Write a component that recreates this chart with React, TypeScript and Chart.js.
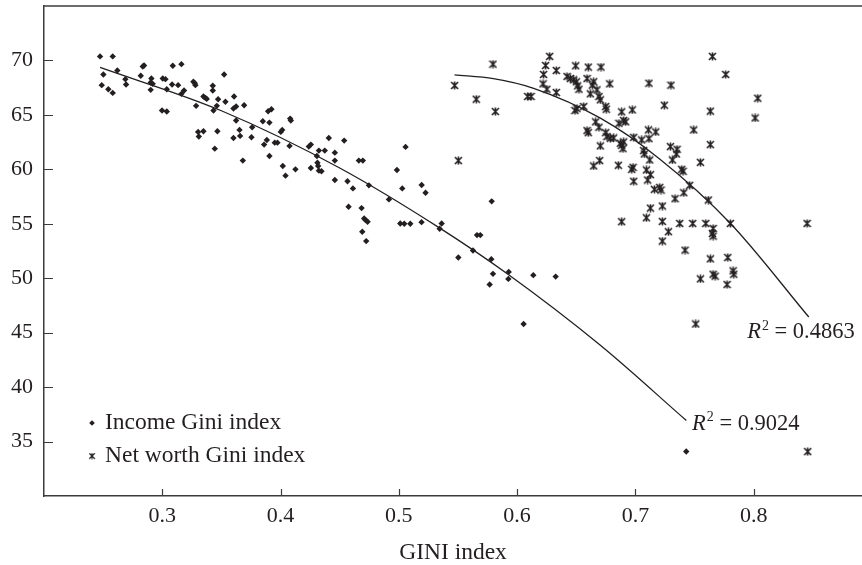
import React, { useEffect, useRef } from 'react';
import { Chart, registerables } from 'chart.js';

Chart.register(...registerables);

// ---------- data ----------
const xTickValues = [0.3, 0.4, 0.5, 0.6, 0.7, 0.8];
const yTickValues = [35, 40, 45, 50, 55, 60, 65, 70];

const incomeLabel = 'Income Gini index';
const netWorthLabel = 'Net worth Gini index';
const xAxisTitle = 'GINI index';

const incomePoints: [number, number][] = [
  [0.2474, 70.37], [0.2581, 70.37], [0.2502, 68.71], [0.262, 69.08], [0.2488, 67.73], [0.2544, 67.36],
  [0.2581, 67.02], [0.2688, 68.28], [0.2694, 67.79], [0.2818, 68.59], [0.2835, 69.45], [0.2846, 69.54],
  [0.2902, 67.98], [0.2908, 68.34], [0.2919, 67.85], [0.2902, 67.3], [0.3004, 68.34], [0.3027, 68.28],
  [0.3038, 67.36], [0.3089, 69.51], [0.3162, 69.66], [0.3083, 67.79], [0.3134, 67.73], [0.3162, 66.93],
  [0.3184, 67.24], [0.2998, 65.4], [0.3038, 65.31], [0.3263, 68.04], [0.3275, 67.91], [0.328, 67.73],
  [0.3286, 65.83], [0.3348, 66.69], [0.3365, 66.56], [0.3376, 66.47], [0.3427, 67.67], [0.3427, 67.24],
  [0.3433, 65.4], [0.3472, 66.44], [0.3461, 65.83], [0.3523, 68.71], [0.3534, 66.2], [0.3607, 66.69],
  [0.3602, 65.58], [0.3624, 65.77], [0.3624, 64.48], [0.3692, 65.89], [0.3303, 63.44], [0.3309, 63.01],
  [0.3348, 63.5], [0.3466, 63.5], [0.3444, 61.9], [0.3602, 62.88], [0.3653, 63.62], [0.3658, 63.07],
  [0.3681, 60.8], [0.376, 63.87], [0.3754, 62.94], [0.385, 64.42], [0.3895, 65.34], [0.3923, 65.52],
  [0.3906, 64.29], [0.3861, 62.27], [0.3884, 62.7], [0.3906, 61.23], [0.3951, 62.45], [0.3974, 62.45],
  [0.4002, 63.44], [0.4014, 63.62], [0.4019, 60.31], [0.4042, 59.42], [0.4076, 62.15], [0.4081, 64.66],
  [0.4087, 64.48], [0.4126, 60.0], [0.4239, 62.09], [0.4256, 62.27], [0.4256, 60.12], [0.4307, 61.23],
  [0.4312, 60.61], [0.4318, 60.31], [0.4324, 59.88], [0.4346, 59.82], [0.4324, 61.72], [0.4374, 61.72],
  [0.4408, 62.88], [0.4459, 61.53], [0.4459, 60.8], [0.4459, 59.02], [0.4538, 62.64], [0.4566, 58.9],
  [0.4612, 58.25], [0.4662, 60.8], [0.4696, 60.8], [0.4747, 58.53], [0.5057, 62.06], [0.4984, 59.94],
  [0.5029, 58.25], [0.5193, 58.56], [0.5226, 57.85], [0.4575, 56.57], [0.4685, 56.44], [0.4707, 55.49],
  [0.4719, 55.34], [0.4736, 55.19], [0.4691, 54.27], [0.4724, 53.41], [0.4916, 57.24], [0.5012, 55.03],
  [0.5046, 55.0], [0.5097, 55.0], [0.5192, 55.15], [0.5362, 55.03], [0.5345, 54.54], [0.5785, 57.06],
  [0.5503, 51.9], [0.5627, 52.55], [0.5661, 53.96], [0.5689, 53.96], [0.5782, 51.75], [0.5796, 50.4],
  [0.5768, 49.42], [0.5929, 50.58], [0.5926, 49.94], [0.6137, 50.28], [0.6326, 50.15], [0.6055, 45.8],
  [0.743, 34.08],
];

const netWorthPoints: [number, number][] = [
  [0.5472, 67.7], [0.5796, 69.66], [0.5655, 66.44], [0.5816, 65.31], [0.5503, 60.8], [0.6089, 66.69],
  [0.6118, 66.69], [0.6275, 70.37], [0.6241, 69.54], [0.6224, 68.71], [0.6331, 69.08], [0.6219, 67.85],
  [0.6252, 67.36], [0.6331, 67.06], [0.6422, 68.53], [0.645, 68.34], [0.6495, 69.51], [0.6602, 69.39],
  [0.6709, 69.39], [0.6478, 68.22], [0.6501, 68.04], [0.6512, 67.67], [0.6523, 67.36], [0.6591, 68.34],
  [0.6647, 68.04], [0.6636, 67.73], [0.6619, 66.93], [0.6675, 67.3], [0.6692, 66.69], [0.6704, 66.38],
  [0.6783, 67.85], [0.6506, 65.58], [0.6563, 65.77], [0.6489, 65.4], [0.6664, 64.36], [0.6591, 63.56],
  [0.6602, 63.37], [0.6692, 63.87], [0.6749, 63.37], [0.676, 63.01], [0.6788, 62.85], [0.6704, 62.15],
  [0.6816, 62.88], [0.6873, 62.39], [0.6884, 62.21], [0.6901, 62.52], [0.6895, 61.9], [0.6749, 65.77],
  [0.6754, 65.52], [0.6884, 65.28], [0.6974, 65.46], [0.6918, 64.36], [0.6861, 64.23], [0.6901, 64.48],
  [0.6647, 60.31], [0.6698, 60.8], [0.6856, 60.37], [0.698, 60.18], [0.6969, 60.0], [0.6986, 58.9],
  [0.7053, 62.7], [0.6986, 62.94], [0.711, 63.62], [0.7172, 63.44], [0.7115, 62.82], [0.707, 61.72],
  [0.7076, 61.41], [0.7121, 60.86], [0.7093, 59.94], [0.7127, 59.51], [0.7104, 59.02], [0.7161, 58.16],
  [0.7206, 58.34], [0.7217, 58.1], [0.7296, 62.09], [0.7352, 61.84], [0.7347, 61.41], [0.7313, 60.86],
  [0.7392, 60.0], [0.7403, 59.82], [0.7459, 58.53], [0.7409, 57.85], [0.7335, 57.3], [0.7617, 57.18],
  [0.7115, 67.91], [0.7301, 67.73], [0.7245, 65.89], [0.7651, 70.37], [0.7764, 68.71], [0.8035, 66.53],
  [0.7634, 65.34], [0.8012, 64.72], [0.7493, 63.62], [0.7634, 62.27], [0.755, 60.64], [0.7803, 55.03],
  [0.7127, 56.44], [0.7228, 56.63], [0.6884, 55.19], [0.7093, 55.55], [0.7228, 55.22], [0.7279, 54.27],
  [0.7228, 53.41], [0.7375, 55.03], [0.7485, 55.03], [0.7595, 55.03], [0.7657, 54.57], [0.7651, 54.11],
  [0.7657, 53.87], [0.8452, 55.03], [0.742, 52.58], [0.7634, 51.78], [0.7781, 51.9], [0.755, 49.94],
  [0.7657, 50.37], [0.7674, 50.19], [0.7826, 50.68], [0.7832, 50.37], [0.7775, 49.42], [0.751, 45.8],
  [0.8457, 34.08],
];

// trend curves
const incomeTrend: [number, number][] = [
  [0.2474, 69.36], [0.35, 65.38], [0.4504, 60.1], [0.535, 54.58], [0.5914, 50.43], [0.6704, 43.84], [0.7431, 36.93],
];
const netWorthTrend: [number, number][] = [
  [0.5471, 68.68], [0.58, 68.33], [0.614, 67.44], [0.6704, 64.7], [0.72, 61.0], [0.7804, 55.03], [0.8466, 46.44],
];

const incomeR2 = '0.9024';
const netWorthR2 = '0.4863';

// ---------- styling ----------
const FONT = "'Liberation Serif', 'Times New Roman', serif";
const INK = '#231f20';
const AXIS = '#3c3c3c';

function makeStar(): HTMLCanvasElement {
  const c = document.createElement('canvas');
  c.width = 9;
  c.height = 9;
  const g = c.getContext('2d')!;
  g.strokeStyle = INK;
  g.lineWidth = 1.6;
  g.beginPath();
  g.moveTo(1, 1);
  g.lineTo(8, 8);
  g.moveTo(8, 1);
  g.lineTo(1, 8);
  g.moveTo(4.5, 0.5);
  g.lineTo(4.5, 8.5);
  g.stroke();
  return c;
}

function drawDiamond(ctx: CanvasRenderingContext2D, x: number, y: number, r: number) {
  ctx.beginPath();
  ctx.moveTo(x - r, y);
  ctx.lineTo(x, y - r);
  ctx.lineTo(x + r, y);
  ctx.lineTo(x, y + r);
  ctx.closePath();
  ctx.fill();
}

const zeroPad = (s: any) => {
  s.paddingTop = 0;
  s.paddingBottom = 0;
  s.paddingLeft = 0;
  s.paddingRight = 0;
};

export default function App() {
  const ref = useRef<HTMLCanvasElement | null>(null);

  useEffect(() => {
    const canvas = ref.current;
    if (!canvas) return;
    const star = makeStar();

    const decor = {
      id: 'decor',
      afterDraw(chart: any) {
        const { ctx, chartArea: ca } = chart;
        const xs = chart.scales.x;
        const ys = chart.scales.y;
        ctx.save();
        // top frame line
        ctx.strokeStyle = AXIS;
        ctx.lineWidth = 1.5;
        ctx.beginPath();
        ctx.moveTo(ca.left, ca.top);
        ctx.lineTo(ca.right, ca.top);
        ctx.stroke();
        // inward tick marks
        ctx.lineWidth = 1.2;
        ctx.beginPath();
        xTickValues.forEach((v) => {
          const px = Math.round(xs.getPixelForValue(v)) + 0.5;
          ctx.moveTo(px, ca.bottom);
          ctx.lineTo(px, ca.bottom - 7);
        });
        yTickValues.forEach((v) => {
          const py = Math.round(ys.getPixelForValue(v)) + 0.5;
          ctx.moveTo(ca.left, py);
          ctx.lineTo(ca.left + 9, py);
        });
        ctx.stroke();

        // legend
        ctx.fillStyle = INK;
        ctx.textBaseline = 'middle';
        ctx.textAlign = 'left';
        ctx.font = `23.5px ${FONT}`;
        const lx = ca.left + 48;
        const ly1 = ca.bottom - 73;
        const ly2 = ca.bottom - 40;
        drawDiamond(ctx, lx, ly1, 2.8);
        ctx.fillText(incomeLabel, lx + 13, ly1);
        ctx.drawImage(star, lx - 3.5, ly2 - 3.5, 7, 7);
        ctx.fillText(netWorthLabel, lx + 13, ly2);

        // R² labels
        const drawR2 = (xv: number, yv: number, val: string) => {
          let px = xs.getPixelForValue(xv);
          const py = ys.getPixelForValue(yv);
          ctx.font = `italic 22.5px ${FONT}`;
          ctx.fillText('R', px, py);
          px += ctx.measureText('R').width + 1;
          ctx.font = `14px ${FONT}`;
          ctx.fillText('2', px, py - 6);
          px += ctx.measureText('2').width;
          ctx.font = `22.5px ${FONT}`;
          ctx.fillText(' = ' + val, px, py);
        };
        drawR2(0.7479, 36.63, incomeR2);
        drawR2(0.7945, 45.06, netWorthR2);
        ctx.restore();
      },
    };

    const chart = new Chart(canvas, {
      data: {
        datasets: [
          {
            type: 'line',
            label: 'income trend',
            data: incomeTrend.map(([x, y]) => ({ x, y })),
            borderColor: INK,
            borderWidth: 1.3,
            pointRadius: 0,
            cubicInterpolationMode: 'monotone',
            fill: false,
          } as any,
          {
            type: 'line',
            label: 'net worth trend',
            data: netWorthTrend.map(([x, y]) => ({ x, y })),
            borderColor: INK,
            borderWidth: 1.3,
            pointRadius: 0,
            cubicInterpolationMode: 'monotone',
            fill: false,
          } as any,
          {
            type: 'scatter',
            label: incomeLabel,
            data: incomePoints.map(([x, y]) => ({ x, y })),
            pointStyle: 'rectRot',
            pointRadius: 3.2,
            backgroundColor: INK,
            borderColor: INK,
            borderWidth: 0,
          } as any,
          {
            type: 'scatter',
            label: netWorthLabel,
            data: netWorthPoints.map(([x, y]) => ({ x, y })),
            pointStyle: star,
            pointRadius: 4,
            backgroundColor: INK,
            borderColor: INK,
          } as any,
        ],
      },
      options: {
        animation: false,
        responsive: false,
        devicePixelRatio: 1,
        layout: { autoPadding: false, padding: { top: 6, right: 0, bottom: 0, left: 0 } },
        plugins: { legend: { display: false }, tooltip: { enabled: false } },
        scales: {
          x: {
            type: 'linear',
            min: 0.2,
            max: 0.8916,
            afterBuildTicks: (s: any) => {
              s.ticks = xTickValues.map((v) => ({ value: v }));
            },
            afterFit: (s: any) => {
              s.height = 69;
              zeroPad(s);
            },
            grid: { display: false, drawTicks: false },
            border: { display: true, color: AXIS, width: 1.5 },
            ticks: {
              color: INK,
              font: { family: FONT, size: 22 },
              padding: 7,
              maxRotation: 0,
              autoSkip: false,
              callback: (v: any) => Number(v).toFixed(1),
            },
            title: {
              display: true,
              text: xAxisTitle,
              color: INK,
              font: { family: FONT, size: 23.5, lineHeight: 1 },
              padding: 0,
            },
          },
          y: {
            type: 'linear',
            min: 30,
            max: 75,
            afterBuildTicks: (s: any) => {
              s.ticks = yTickValues.map((v) => ({ value: v }));
            },
            afterFit: (s: any) => {
              s.width = 44;
              zeroPad(s);
            },
            grid: { display: false, drawTicks: false },
            border: { display: true, color: AXIS, width: 1.5 },
            ticks: {
              color: INK,
              font: { family: FONT, size: 22 },
              padding: 11,
              autoSkip: false,
              callback: (v: any) => String(v),
            },
          },
        },
      } as any,
      plugins: [decor],
    });

    return () => chart.destroy();
  }, []);

  return (
    <canvas
      ref={ref}
      width={862}
      height={565}
      style={{ position: 'absolute', left: 0, top: 0, width: 862, height: 565 }}
    />
  );
}
